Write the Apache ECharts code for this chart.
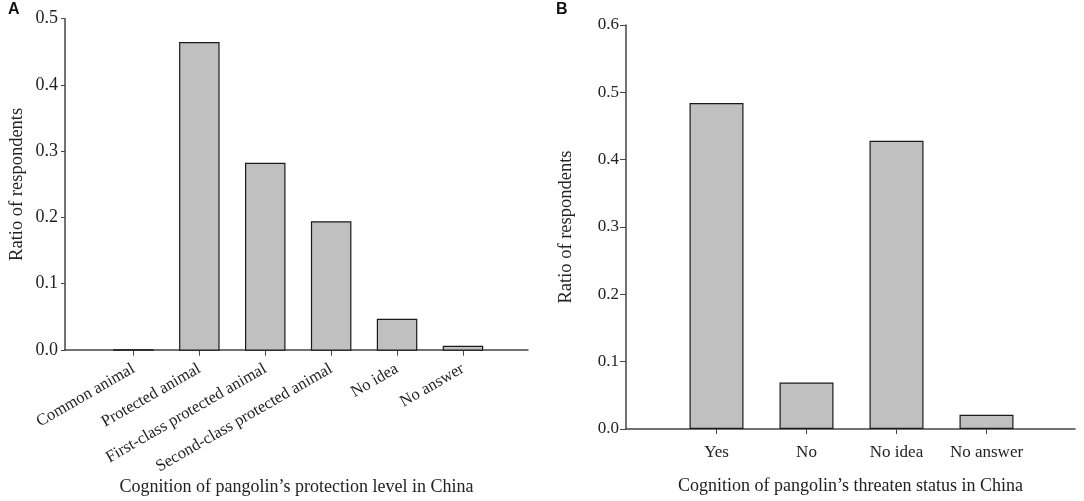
<!DOCTYPE html>
<html>
<head>
<meta charset="utf-8">
<script src="https://cdn.jsdelivr.net/npm/echarts@6/dist/echarts.min.js"></script>
<style>
  html, body { margin: 0; padding: 0; background: #fff; }
  #chart { width: 1084px; height: 501px; }
</style>
</head>
<body>
<div id="chart"></div>
<script>
const levelCats = ['Common animal', 'Protected animal', 'First-class protected animal', 'Second-class protected animal', 'No idea', 'No answer'];
const levelVals = [0.002, 0.465, 0.283, 0.195, 0.048, 0.0075];

const threatCats = ['Yes', 'No', 'No idea', 'No answer'];
const threatVals = [0.484, 0.069, 0.428, 0.021];

const yTicksA = [0, 0.5, 0.1];
const yTicksB = [0, 0.6, 0.1];

const serif = 'Liberation Serif';
const ink = '#222';
const axisColor = '#444';

const chart = echarts.init(document.getElementById('chart'));

// frame grids carry the visible y axis and the long x axis line,
// bar grids carry the categories (narrower than the frame)
const frameA = { left: 65, top: 18.7, width: 463, height: 332 };
const barsA = { left: 100.5, top: 18.7, width: 395.4, height: 332 };
const frameB = { left: 626, top: 25, width: 449, height: 404 };
const barsB = { left: 671.5, top: 25, width: 360, height: 404 };

function frameX(gridIndex, name, gap) {
  return {
    type: 'value', gridIndex, min: 0, max: 1,
    axisLine: { show: true, lineStyle: { color: axisColor, width: 1.5 } },
    axisTick: { show: false }, axisLabel: { show: false }, splitLine: { show: false },
    name, nameLocation: 'middle', nameGap: gap,
    nameTextStyle: { fontFamily: serif, fontSize: 18, color: ink }
  };
}

function frameY(gridIndex, ticks, tickLen, gap, size) {
  return {
    type: 'value', gridIndex, min: ticks[0], max: ticks[1], interval: ticks[2],
    axisLine: { show: true, lineStyle: { color: axisColor, width: 1.5 } },
    axisTick: { show: true, inside: false, length: tickLen, lineStyle: { color: axisColor } },
    axisLabel: { fontFamily: serif, fontSize: size, color: ink, margin: 7, formatter: v => v.toFixed(1) },
    splitLine: { show: false },
    name: 'Ratio of respondents', nameLocation: 'middle', nameGap: gap,
    nameTextStyle: { fontFamily: serif, fontSize: 18.5, color: ink }
  };
}

function barX(gridIndex, cats, rotate, margin, size) {
  return {
    type: 'category', gridIndex, data: cats,
    axisLine: { show: false },
    axisTick: { show: true, alignWithLabel: true, length: 5, lineStyle: { color: axisColor } },
    axisLabel: { interval: 0, rotate, margin, fontFamily: serif, fontSize: size, color: ink },
    splitLine: { show: false }
  };
}

function hiddenY(gridIndex, ticks) {
  return { type: 'value', gridIndex, min: ticks[0], max: ticks[1], show: false };
}

function bars(xi, yi, vals, width) {
  return {
    type: 'bar', xAxisIndex: xi, yAxisIndex: yi, data: vals, barWidth: width,
    itemStyle: { color: '#c0c0c0', borderColor: '#1a1a1a', borderWidth: 1.2 },
    silent: true
  };
}

chart.setOption({
  animation: false,
  grid: [frameA, barsA, frameB, barsB],
  xAxis: [
    frameX(0, 'Cognition of pangolin\u2019s protection level in China', 128),
    barX(1, levelCats, 30, 17, 16.5),
    frameX(2, 'Cognition of pangolin\u2019s threaten status in China', 48),
    barX(3, threatCats, 0, 15, 17)
  ],
  yAxis: [
    frameY(0, yTicksA, 4, 38, 18),
    hiddenY(1, yTicksA),
    frameY(2, yTicksB, 6, 50, 17),
    hiddenY(3, yTicksB)
  ],
  series: [
    bars(1, 1, levelVals, 40.5),
    bars(3, 3, threatVals, 54)
  ],
  graphic: [
    { type: 'text', left: 8, top: 2, style: { text: 'A', font: 'bold 16px "Liberation Sans"', fill: '#111' } },
    { type: 'text', left: 556, top: 2, style: { text: 'B', font: 'bold 16px "Liberation Sans"', fill: '#111' } }
  ]
});
</script>
</body>
</html>
